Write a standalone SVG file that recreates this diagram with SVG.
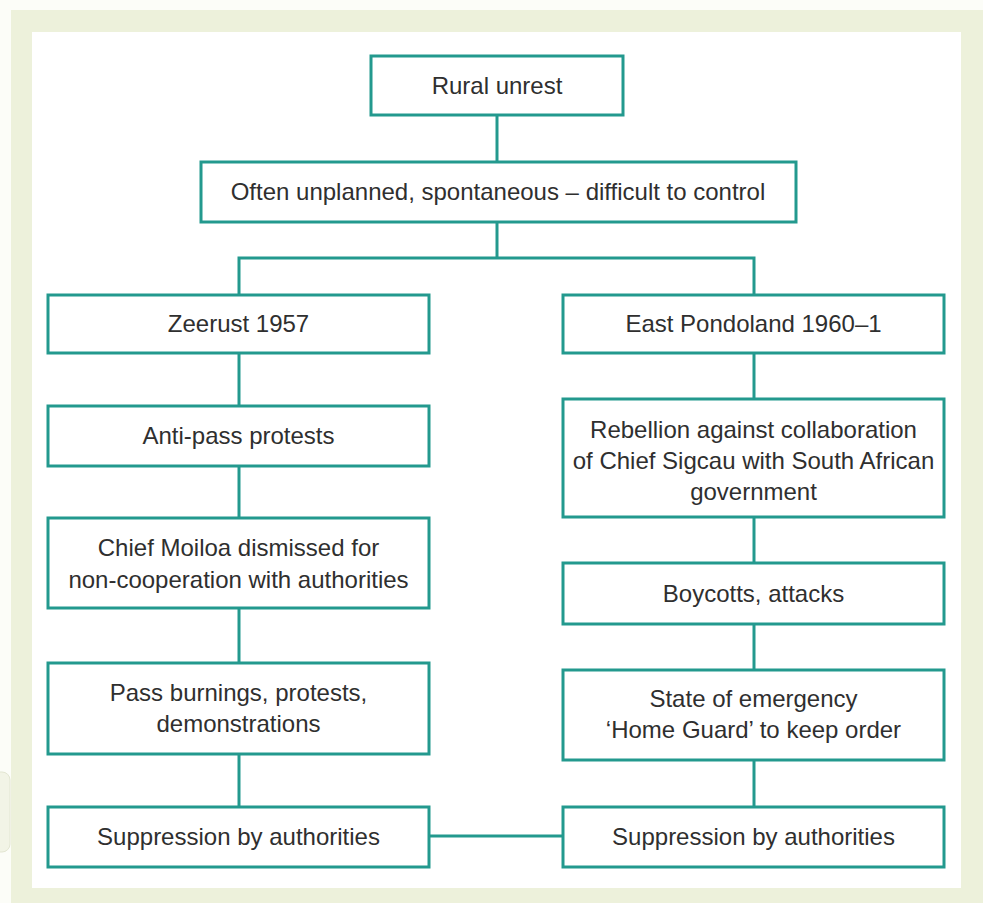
<svg xmlns="http://www.w3.org/2000/svg" width="983" height="903" viewBox="0 0 983 903">
  <style>
    .box { fill: #ffffff; stroke: #23998e; stroke-width: 3; }
    .link { fill: none; stroke: #23998e; stroke-width: 3; }
    .label { font-family: "Liberation Sans", Arial, Helvetica, sans-serif; font-size: 24px; fill: #2f2f2f; text-anchor: middle; }
  </style>

  <!-- page and framed panel -->
  <rect x="0" y="0" width="983" height="903" fill="#fcfdf8"/>
  <rect x="-12" y="772" width="22" height="80" rx="8" fill="#f2f4e6" stroke="#e3e6d2" stroke-width="1"/>
  <rect x="11" y="10" width="972" height="893" fill="#edf1db"/>
  <rect x="32" y="32" width="929" height="856" fill="#ffffff"/>

  <!-- connectors -->
  <g id="connectors">
    <line class="link" x1="497" y1="115" x2="497" y2="162"/>
    <line class="link" x1="497" y1="222" x2="497" y2="258"/>
    <polyline class="link" points="239,295 239,258 754,258 754,295"/>
    <line class="link" x1="239" y1="353" x2="239" y2="406"/>
    <line class="link" x1="239" y1="466" x2="239" y2="518"/>
    <line class="link" x1="239" y1="608" x2="239" y2="663"/>
    <line class="link" x1="239" y1="754" x2="239" y2="807"/>
    <line class="link" x1="754" y1="353" x2="754" y2="399"/>
    <line class="link" x1="754" y1="517" x2="754" y2="563"/>
    <line class="link" x1="754" y1="624" x2="754" y2="670"/>
    <line class="link" x1="754" y1="760" x2="754" y2="807"/>
    <line class="link" x1="429" y1="836" x2="563" y2="836"/>
  </g>

  <g id="rural-unrest">
    <rect class="box" x="371" y="56" width="252" height="59"/>
    <text class="label" x="497" y="94">Rural unrest</text>
  </g>

  <g id="unplanned">
    <rect class="box" x="201" y="162" width="595" height="60"/>
    <text class="label" x="498" y="200">Often unplanned, spontaneous – difficult to control</text>
  </g>

  <g id="zeerust">
    <rect class="box" x="48" y="295" width="381" height="58"/>
    <text class="label" x="238.5" y="332">Zeerust 1957</text>
  </g>

  <g id="anti-pass">
    <rect class="box" x="48" y="406" width="381" height="60"/>
    <text class="label" x="238.5" y="444">Anti-pass protests</text>
  </g>

  <g id="moiloa">
    <rect class="box" x="48" y="518" width="381" height="90"/>
    <text class="label" x="238.5" y="556">Chief Moiloa dismissed for</text>
    <text class="label" x="238.5" y="588">non-cooperation with authorities</text>
  </g>

  <g id="pass-burnings">
    <rect class="box" x="48" y="663" width="381" height="91"/>
    <text class="label" x="238.5" y="701">Pass burnings, protests,</text>
    <text class="label" x="238.5" y="732">demonstrations</text>
  </g>

  <g id="suppression-left">
    <rect class="box" x="48" y="807" width="381" height="60"/>
    <text class="label" x="238.5" y="845">Suppression by authorities</text>
  </g>

  <g id="pondoland">
    <rect class="box" x="563" y="295" width="381" height="58"/>
    <text class="label" x="753.5" y="332">East Pondoland 1960–1</text>
  </g>

  <g id="rebellion">
    <rect class="box" x="563" y="399" width="381" height="118"/>
    <text class="label" x="753.5" y="438">Rebellion against collaboration</text>
    <text class="label" x="753.5" y="469">of Chief Sigcau with South African</text>
    <text class="label" x="753.5" y="500">government</text>
  </g>

  <g id="boycotts">
    <rect class="box" x="563" y="563" width="381" height="61"/>
    <text class="label" x="753.5" y="602">Boycotts, attacks</text>
  </g>

  <g id="emergency">
    <rect class="box" x="563" y="670" width="381" height="90"/>
    <text class="label" x="753.5" y="707">State of emergency</text>
    <text class="label" x="753.5" y="738">‘Home Guard’ to keep order</text>
  </g>

  <g id="suppression-right">
    <rect class="box" x="563" y="807" width="381" height="60"/>
    <text class="label" x="753.5" y="845">Suppression by authorities</text>
  </g>
</svg>
